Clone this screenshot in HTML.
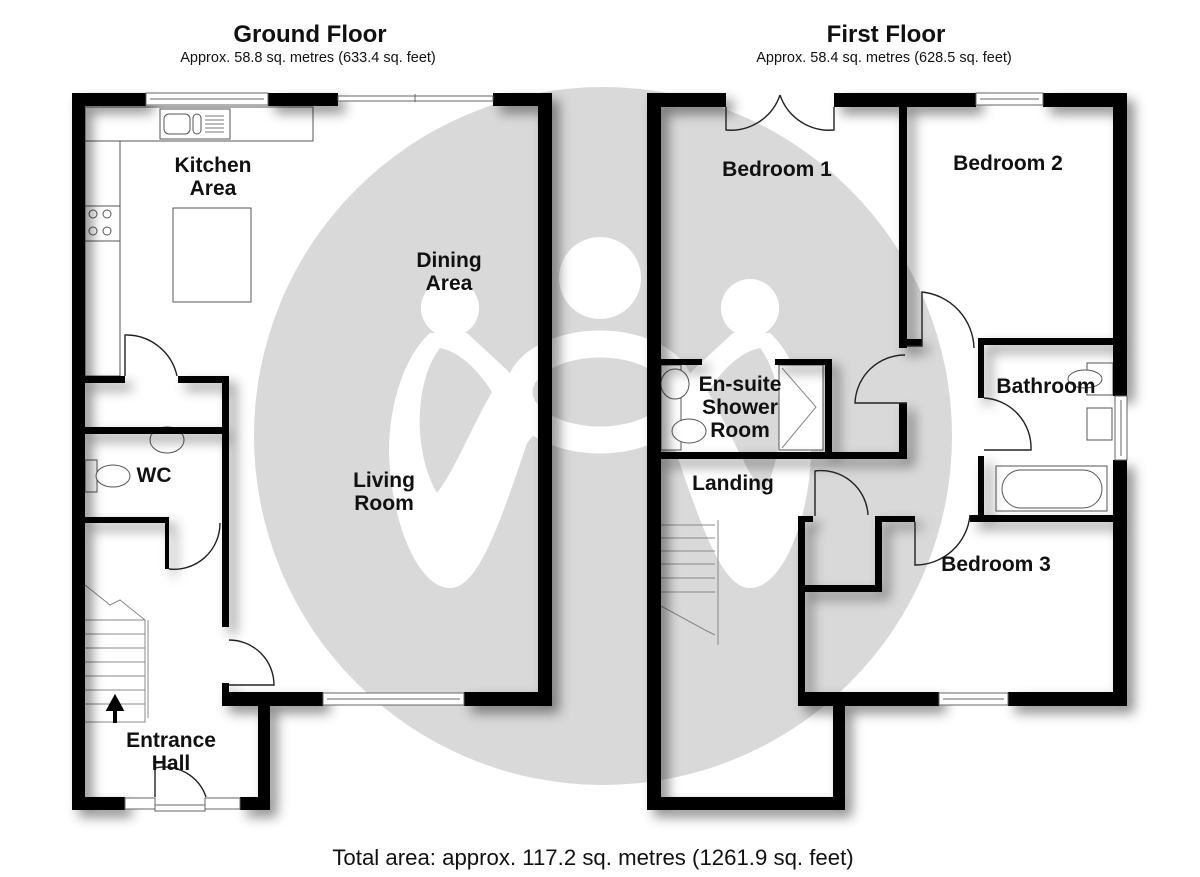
<!DOCTYPE html>
<html><head><meta charset="utf-8"><style>
html,body{margin:0;padding:0;background:#fff}
svg{display:block}
text{font-family:"Liberation Sans",Arial,sans-serif}
.t{font-weight:bold;font-size:21px;fill:#111;text-anchor:middle}
.w{fill:#000}
.fx{fill:#fff;stroke:#555;stroke-width:1}
.dr{fill:none;stroke:#222;stroke-width:1.4}
</style></head><body>
<svg width="1200" height="877" viewBox="0 0 1200 877" xmlns="http://www.w3.org/2000/svg">
<defs>
<filter id="sh" x="-10%" y="-10%" width="130%" height="130%">
<feDropShadow dx="7" dy="7" stdDeviation="6" flood-color="#000" flood-opacity="0.45"/>
</filter>
</defs>
<rect width="1200" height="877" fill="#fff"/>
<circle cx="603" cy="436" r="349" fill="#d9d9d9"/>
<g fill="#fff">
<path d="M430,333 C400,360 385,420 390,470 C395,530 420,588 450,588 C475,588 495,540 527,443 L548,418 L507,370 L467,333 Z"/>
<path d="M770,333 C800,360 815,420 810,470 C805,530 780,588 750,588 C725,588 705,540 673,443 L652,418 L693,370 L733,333 Z"/>
</g>
<ellipse cx="600" cy="392" rx="81" ry="48" fill="none" stroke="#fff" stroke-width="27"/>
<g fill="#d9d9d9">
<path d="M440,348 C415,380 412,450 437,493 C455,470 470,430 492,392 C478,370 460,352 440,348 Z"/>
<path d="M760,348 C785,380 788,450 763,493 C745,470 730,430 708,392 C722,370 740,352 760,348 Z"/>
</g>
<g fill="#fff"><circle cx="450" cy="308" r="29"/><circle cx="600" cy="278" r="41"/><circle cx="750" cy="308" r="29"/></g>

<text x="310" y="42" text-anchor="middle" font-size="24" font-weight="bold" fill="#111">Ground Floor</text>
<text x="308" y="62" text-anchor="middle" font-size="14.5" fill="#111">Approx. 58.8 sq. metres (633.4 sq. feet)</text>
<text x="886" y="42" text-anchor="middle" font-size="24" font-weight="bold" fill="#111">First Floor</text>
<text x="884" y="62" text-anchor="middle" font-size="14.5" fill="#111">Approx. 58.4 sq. metres (628.5 sq. feet)</text>
<text x="593" y="865" text-anchor="middle" font-size="22.2" fill="#111">Total area: approx. 117.2 sq. metres (1261.9 sq. feet)</text>

<rect class="fx" x="85" y="107" width="228" height="34"/>
<rect class="fx" x="85" y="141" width="35" height="235"/>
<rect class="fx" x="160" y="109" width="70" height="30"/>
<rect class="fx" x="164" y="114" width="26" height="20" rx="5"/>
<rect class="fx" x="193" y="114" width="8" height="20" rx="4"/>
<g stroke="#777" stroke-width="1"><line x1="205" y1="116" x2="224" y2="116"/><line x1="205" y1="120" x2="224" y2="120"/><line x1="205" y1="124" x2="224" y2="124"/><line x1="205" y1="128" x2="224" y2="128"/><line x1="205" y1="132" x2="224" y2="132"/></g>
<rect class="fx" x="85" y="206" width="35" height="35"/>
<g class="fx"><circle cx="93" cy="214" r="4"/><circle cx="107" cy="214" r="4"/><circle cx="93" cy="231" r="4"/><circle cx="107" cy="231" r="4"/></g>
<rect class="fx" x="173" y="208" width="78" height="94"/>
<ellipse class="fx" cx="167" cy="440" rx="17" ry="13"/>
<rect class="fx" x="85" y="460" width="12" height="32"/>
<ellipse class="fx" cx="113" cy="476" rx="17" ry="11"/>
<g stroke="#888" stroke-width="1" fill="none">
<path d="M85,585 L110,605 L120,600 L145,620 L145,722 L85,722"/>
<line x1="85" y1="620" x2="145" y2="620"/><line x1="85" y1="634" x2="145" y2="634"/><line x1="85" y1="648" x2="145" y2="648"/><line x1="85" y1="662" x2="145" y2="662"/><line x1="85" y1="676" x2="145" y2="676"/><line x1="85" y1="690" x2="145" y2="690"/><line x1="85" y1="704" x2="145" y2="704"/>
<line x1="148" y1="620" x2="148" y2="718"/>
</g>
<path d="M115,723 L115,709 L109,709 L115,698 L121,709 L115,709" fill="#000" stroke="#000" stroke-width="4"/>

<g class="w" filter="url(#sh)">
<rect x="72" y="93" width="13" height="717"/>
<rect x="72" y="93" width="74" height="13"/>
<rect x="268" y="93" width="70" height="13"/>
<rect x="493" y="93" width="59" height="13"/>
<rect x="538" y="93" width="14" height="613"/>
<rect x="464" y="692" width="88" height="14"/>
<rect x="222" y="692" width="101" height="14"/>
<rect x="222" y="376" width="7" height="251"/>
<rect x="222" y="683" width="7" height="12"/>
<rect x="258" y="698" width="12" height="112"/>
<rect x="72" y="797" width="53" height="13"/>
<rect x="240" y="797" width="30" height="13"/>
<rect x="72" y="376" width="53" height="7"/>
<rect x="178" y="376" width="51" height="7"/>
<rect x="72" y="427" width="150" height="7"/>
<rect x="72" y="517" width="95" height="6"/>
<rect x="165" y="517" width="4" height="52"/>
</g>
<g fill="#fff" stroke="#666" stroke-width="1">
<rect x="146" y="93" width="122" height="12"/><line x1="150" y1="99" x2="264" y2="99"/>
<rect x="338" y="96" width="155" height="5"/><line x1="415" y1="94" x2="415" y2="102"/>
<rect x="323" y="693" width="141" height="12"/><line x1="327" y1="699" x2="460" y2="699"/>
<rect x="125" y="798" width="30" height="11"/><rect x="205" y="798" width="35" height="11"/>
<rect x="155" y="805" width="50" height="6"/>
</g>
<g class="dr">
<path d="M125,376 L125,335 A52,52 0 0 1 177,376"/>
<path d="M169,569 A46,46 0 0 0 220,523"/>
<path d="M229,640 A45,45 0 0 1 274,685 L229,685"/>
<path d="M155,797 L155,768 A44,44 0 0 1 206,797"/>
</g>
<text class="t" x="213" y="172">Kitchen</text><text class="t" x="213" y="195">Area</text>
<text class="t" x="449" y="267">Dining</text><text class="t" x="449" y="290">Area</text>
<text class="t" x="154" y="482">WC</text>
<text class="t" x="384" y="487">Living</text><text class="t" x="384" y="510">Room</text>
<text class="t" x="171" y="747">Entrance</text><text class="t" x="171" y="770">Hall</text>

<rect class="fx" x="661" y="365" width="20" height="85"/>
<ellipse class="fx" cx="675" cy="384" rx="14" ry="15"/>
<ellipse class="fx" cx="689" cy="431" rx="17" ry="12"/>
<rect class="fx" x="779" y="365" width="44" height="85"/>
<path d="M782,368 L816,407 L782,448" fill="none" stroke="#888" stroke-width="1"/>
<rect class="fx" x="1087" y="363" width="26" height="32"/>
<ellipse class="fx" cx="1085" cy="379" rx="17" ry="9"/>
<rect class="fx" x="1087" y="408" width="25" height="32"/>
<rect class="fx" x="996" y="466" width="111" height="45"/>
<rect class="fx" x="1002" y="470" width="100" height="38" rx="19"/>
<g stroke="#888" stroke-width="1" fill="none">
<path d="M661,525 L715,525 M661,538 L715,538 M661,551 L715,551 M661,564 L715,564 M661,578 L715,578 M661,592 L715,592 M661,606 L705,630 L715,635"/>
<line x1="718" y1="520" x2="718" y2="645"/>
</g>

<g class="w" filter="url(#sh)">
<rect x="647" y="93" width="14" height="717"/>
<rect x="647" y="93" width="79" height="14"/>
<rect x="834" y="93" width="142" height="14"/>
<rect x="1043" y="93" width="84" height="14"/>
<rect x="1113" y="93" width="14" height="303"/>
<rect x="1113" y="460" width="14" height="246"/>
<rect x="899" y="93" width="8" height="255"/>
<rect x="899" y="339" width="23" height="7"/>
<rect x="899" y="403" width="8" height="56"/>
<rect x="647" y="452" width="260" height="7"/>
<rect x="661" y="359" width="41" height="6"/>
<rect x="775" y="359" width="57" height="6"/>
<rect x="825" y="359" width="7" height="93"/>
<rect x="978" y="338" width="149" height="7"/>
<rect x="978" y="338" width="6" height="60"/>
<rect x="978" y="456" width="6" height="66"/>
<rect x="970" y="515" width="157" height="7"/>
<rect x="798" y="516" width="15" height="6"/>
<rect x="875" y="516" width="40" height="6"/>
<rect x="798" y="516" width="7" height="183"/>
<rect x="875" y="516" width="7" height="76"/>
<rect x="798" y="585" width="84" height="7"/>
<rect x="798" y="692" width="141" height="14"/>
<rect x="1008" y="692" width="119" height="14"/>
<rect x="833" y="699" width="12" height="111"/>
<rect x="647" y="797" width="198" height="13"/>
</g>
<g fill="#fff" stroke="#666" stroke-width="1">
<rect x="976" y="93" width="67" height="12"/><line x1="980" y1="99" x2="1039" y2="99"/>
<rect x="939" y="693" width="69" height="12"/><line x1="943" y1="699" x2="1004" y2="699"/>
<rect x="1115" y="396" width="12" height="64"/><line x1="1121" y1="400" x2="1121" y2="456"/>
</g>
<g class="dr">
<path d="M726,107 L726,130 A52,52 0 0 0 780,95"/>
<path d="M834,107 L834,130 A52,52 0 0 1 780,95"/>
<path d="M907,346 L922,346 L922,292 A58,58 0 0 1 974,348"/>
<path d="M907,403 L855,403 A50,50 0 0 1 905,355"/>
<path d="M984,398 A50,50 0 0 1 1031,450 L984,450"/>
<path d="M815,516 L815,471 A47,47 0 0 1 868,515"/>
<path d="M915,522 L915,565 A55,55 0 0 0 970,515"/>
</g>
<text class="t" x="777" y="176">Bedroom 1</text>
<text class="t" x="1008" y="170">Bedroom 2</text>
<text class="t" x="1046" y="393">Bathroom</text>
<text class="t" x="740" y="391">En-suite</text><text class="t" x="740" y="414">Shower</text><text class="t" x="740" y="437">Room</text>
<text class="t" x="733" y="490">Landing</text>
<text class="t" x="996" y="571">Bedroom 3</text>
</svg>
</body></html>
